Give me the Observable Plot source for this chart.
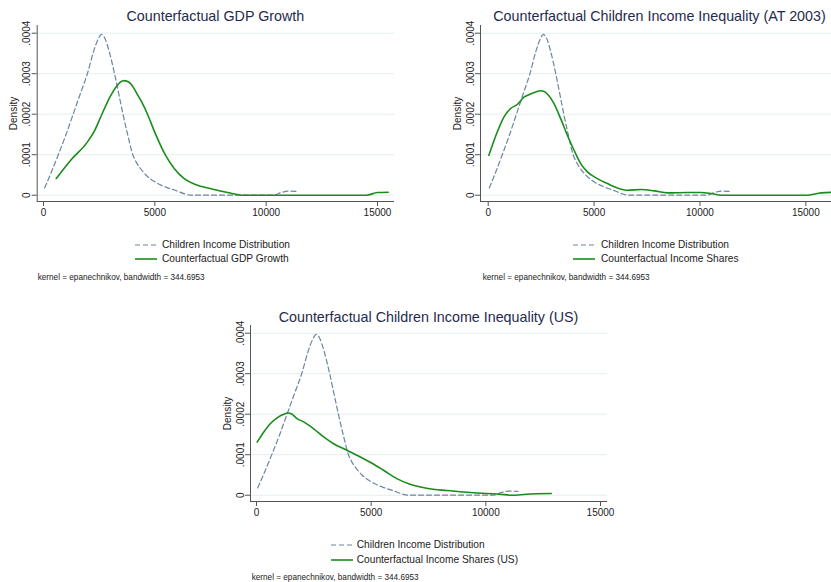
<!DOCTYPE html>
<html>
<head>
<meta charset="utf-8">
<script src="https://cdn.jsdelivr.net/npm/d3@7"></script>
<script src="https://cdn.jsdelivr.net/npm/@observablehq/plot@0.6"></script>
<style>
  html, body { margin: 0; padding: 0; background: #fff; }
  #root { position: relative; width: 831px; height: 582px; overflow: hidden; background: #fff;
          font-family: "Liberation Sans", Arial, sans-serif; }
  .abs { position: absolute; white-space: nowrap; line-height: 1; }
  .title { font-size: 14.3px; color: #1f2b4d; transform: translate(-50%, -50%); }
  .leg { font-size: 10.2px; color: #222; transform: translateY(-50%); }
  .note { font-size: 8.2px; color: #222; transform: translateY(-50%); }
</style>
</head>
<body>
<div id="root"></div>
<script>
// Kernel density of children's income (shared reference curve)
const incomeX = [50, 300, 700, 1000, 1300, 1650, 1970, 2250, 2450, 2530, 2600, 2680, 2750, 2950, 3190, 3400, 3570, 3800, 4010, 4150, 4300, 4600, 5000, 5500, 6000, 6300, 6600, 7500, 9000, 10300, 10700, 11000, 11400];
const incomeDensity = [0.000018, 0.00005, 0.000105, 0.000148, 0.000195, 0.00025, 0.0003, 0.000355, 0.000385, 0.000393, 0.000397, 0.000394, 0.000388, 0.000355, 0.0003, 0.000245, 0.0002, 0.000145, 0.0001, 0.000083, 0.00007, 0.00005, 0.000033, 0.00002, 0.0000105, 0.000004, 0, 0, 0, 0, 0.000007, 0.00001, 0.0000095];

// Counterfactual: GDP growth
const gdpX = [571, 1250, 1968, 2300, 2568, 3018, 3300, 3450, 3620, 3780, 3900, 4050, 4200, 4450, 4670, 5000, 5465, 5870, 6320, 6850, 7520, 8270, 9000, 14500, 15000, 15480];
const gdpDensity = [0.000041, 0.000088, 0.000131, 0.00016, 0.000193, 0.000246, 0.00027, 0.000279, 0.000283, 0.000281, 0.000276, 0.000265, 0.00025, 0.000226, 0.0002, 0.000155, 0.0001, 0.000066, 0.000041, 0.000026, 0.000016, 0.0000066, 0, 0, 0.0000066, 0.0000074];

// Counterfactual: income shares (AT 2003)
const atX = [32, 426, 741, 1057, 1372, 1688, 2003, 2250, 2476, 2640, 2792, 3107, 3423, 3738, 4054, 4369, 4685, 5158, 5631, 6104, 6577, 7208, 7839, 8470, 9416, 10047, 10520, 10994, 15016, 15726, 16600];
const atDensity = [0.0000986, 0.000156, 0.000193, 0.000214, 0.000224, 0.000242, 0.00025, 0.000255, 0.000258, 0.000256, 0.00025, 0.000226, 0.000189, 0.000148, 0.000111, 0.000078, 0.0000575, 0.000041, 0.0000287, 0.000018, 0.0000123, 0.000014, 0.0000107, 0.0000057, 0.0000066, 0.0000066, 0.0000041, 0, 0, 0.0000057, 0.0000078];

// Counterfactual: income shares (US)
const usX = [29, 319, 609, 899, 1188, 1362, 1551, 1768, 2058, 2493, 2928, 3362, 3942, 4522, 5000, 5536, 6116, 6696, 7420, 8290, 9159, 10029, 10609, 11116, 11768, 12855];
const usDensity = [0.000131, 0.000156, 0.000177, 0.000191, 0.0002, 0.000203, 0.0002, 0.000189, 0.000181, 0.000164, 0.000144, 0.000127, 0.000111, 0.0000945, 0.00008, 0.0000616, 0.000041, 0.0000271, 0.0000172, 0.0000115, 0.0000074, 0.0000041, 0.0000025, 0, 0.0000025, 0.0000041];

const xTicks = [0, 5000, 10000, 15000];
const yTicks = [0, 0.0001, 0.0002, 0.0003, 0.0004];
const baseLabel = "Children Income Distribution";
const noteText = "kernel = epanechnikov, bandwidth = 344.6953";

const dashColor = "#6c84a0";
const greenColor = "#1a8c1a";
const axisColor = "#555";
const gridColor = "#e4eef0";

const panels = [
  { title: "Counterfactual GDP Growth", series: "Counterfactual GDP Growth", xs: gdpX, ys: gdpDensity,
    left: 0, top: 20, ml: 36.7, width: 400, xDomain: [-283, 15764], titleY: 16,
    lineX: 135, textX: 162, rows: [245, 259], noteX: 37.7, noteY: 278 },
  { title: "Counterfactual Children Income Inequality (AT 2003)", series: "Counterfactual Income Shares", xs: atX, ys: atDensity,
    left: 440, top: 20, ml: 40, width: 405, xDomain: [-364, 16590], titleY: 16,
    lineX: 573, textX: 601, rows: [245, 259], noteX: 482.7, noteY: 278 },
  { title: "Counterfactual Children Income Inequality (US)", series: "Counterfactual Income Shares (US)", xs: usX, ys: usDensity,
    left: 210, top: 320, ml: 40, width: 403, xDomain: [-262, 15305], titleY: 316.5,
    lineX: 330.7, textX: 356.7, rows: [545, 560], noteX: 251.7, noteY: 578 }
];

const yDomain = [-0.0000155, 0.000419];
const root = document.getElementById("root");

function addDiv(cls, text, x, y) {
  const d = document.createElement("div");
  d.className = "abs " + cls;
  d.textContent = text;
  d.style.left = x + "px";
  d.style.top = y + "px";
  root.appendChild(d);
  return d;
}

function legendLine(x, y, dashed) {
  const ns = "http://www.w3.org/2000/svg";
  const s = document.createElementNS(ns, "svg");
  s.setAttribute("width", 22);
  s.setAttribute("height", 6);
  s.style.position = "absolute";
  s.style.left = x + "px";
  s.style.top = (y - 3) + "px";
  const l = document.createElementNS(ns, "line");
  l.setAttribute("x1", 0); l.setAttribute("x2", 22);
  l.setAttribute("y1", 3); l.setAttribute("y2", 3);
  l.setAttribute("stroke", dashed ? dashColor : greenColor);
  l.setAttribute("stroke-width", dashed ? 1.2 : 1.6);
  if (dashed) l.setAttribute("stroke-dasharray", "5,3");
  s.appendChild(l);
  root.appendChild(s);
}

const fmtY = d => d === 0 ? "0" : d.toFixed(4).replace(/^0/, "");
const fmtX = d => String(d);
const baseData = incomeX.map((x, i) => ({x, d: incomeDensity[i]}));

for (const p of panels) {
  const mr = 6;
  const data = p.xs.map((x, i) => ({x, d: p.ys[i]}));
  const chart = Plot.plot({
    width: p.width,
    height: 210,
    marginLeft: p.ml,
    marginRight: mr,
    marginTop: 5,
    marginBottom: 29,
    x: {domain: p.xDomain},
    y: {domain: yDomain},
    style: {fontFamily: "'Liberation Sans', Arial, sans-serif", fontSize: "10px", color: "#222", background: "transparent", overflow: "visible"},
    marks: [
      Plot.gridY(yTicks, {stroke: gridColor, strokeOpacity: 1}),
      Plot.ruleX([p.xDomain[0]], {stroke: axisColor}),
      Plot.ruleY([yDomain[0]], {stroke: axisColor}),
      Plot.axisX(xTicks, {tickSize: 5, tickPadding: 2, tickFormat: fmtX, stroke: axisColor, label: null}),
      Plot.axisY(yTicks, {tickSize: 5, tickPadding: 2, tickRotate: -90, tickFormat: fmtY, stroke: axisColor,
        label: "Density", labelAnchor: "center", labelOffset: 27, labelArrow: "none"}),
      Plot.line(baseData, {x: "x", y: "d", stroke: dashColor, strokeWidth: 1.2, strokeDasharray: "5,3", curve: "monotone-x"}),
      Plot.line(data, {x: "x", y: "d", stroke: greenColor, strokeWidth: 1.6, curve: "monotone-x"})
    ]
  });
  chart.style.position = "absolute";
  chart.style.left = p.left + "px";
  chart.style.top = p.top + "px";
  root.appendChild(chart);

  const titleX = p.left + p.ml + (p.width - p.ml - mr) / 2;
  addDiv("title", p.title, titleX, p.titleY);

  legendLine(p.lineX, p.rows[0], true);
  addDiv("leg", baseLabel, p.textX, p.rows[0]);
  legendLine(p.lineX, p.rows[1], false);
  addDiv("leg", p.series, p.textX, p.rows[1]);

  addDiv("note", noteText, p.noteX, p.noteY);
}
</script>
</body>
</html>
